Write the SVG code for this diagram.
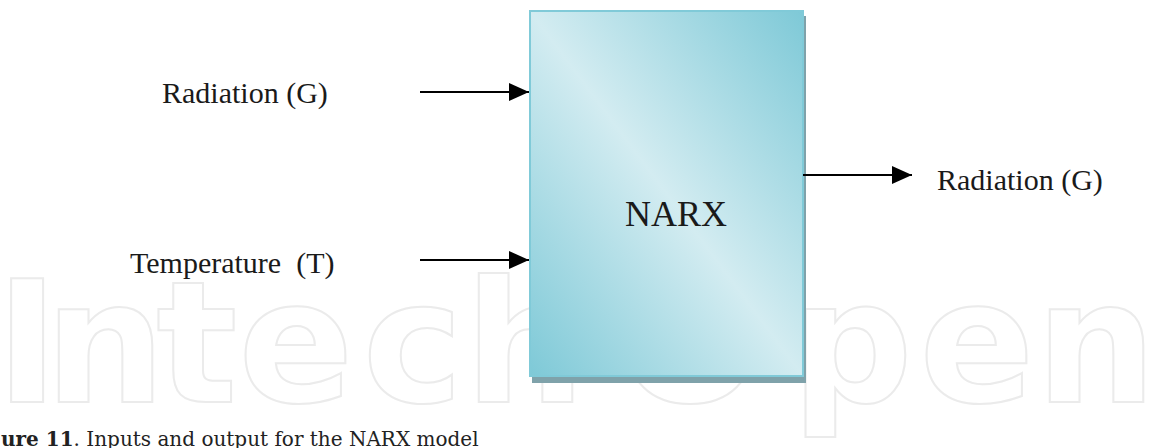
<svg xmlns="http://www.w3.org/2000/svg" width="1150" height="448" viewBox="0 0 1150 448">
<style>
.lbl{font-family:"Liberation Serif","Times New Roman",serif;font-size:30px;fill:#1a1a1a}
.big{font-size:36px}
.wm{font-family:"DejaVu Sans",sans-serif;font-weight:bold;font-size:170px;fill:none;stroke:#ebebeb;stroke-width:2;text-anchor:middle}
.cap{font-family:"DejaVu Serif","Liberation Serif",serif;font-size:20px;fill:#222}
.conn{stroke:#000;stroke-width:2;fill:none;marker-end:url(#ah)}
</style>
<defs>
<linearGradient id="boxg" x1="1" y1="0" x2="0" y2="1">
<stop offset="0" stop-color="#7ec9d7"/>
<stop offset="0.5" stop-color="#d3ecf1"/>
<stop offset="1" stop-color="#7ec9d7"/>
</linearGradient>
<marker id="ah" markerWidth="20" markerHeight="18" refX="20" refY="9" orient="auto" markerUnits="userSpaceOnUse">
<path d="M0,0 L20,9 L0,18 Z" fill="#000"/>
</marker>
</defs>
<rect width="1150" height="448" fill="#fff"/>
<g id="watermark">
<text class="wm" y="402" x="27 105 197 296 413 525 690 852 977 1096">IntechOpen</text>
</g>
<g id="narx">
<rect x="532" y="16" width="274" height="367" fill="#7fa2aa"/>
<rect x="530" y="11" width="273" height="365" fill="url(#boxg)" stroke="#80cad8" stroke-width="2"/>
<text class="lbl big" x="625" y="226">NARX</text>
</g>
<g id="in-radiation">
<text class="lbl" x="162" y="103">Radiation (G)</text>
</g>
<g id="in-temperature">
<text class="lbl" x="130" y="273" xml:space="preserve">Temperature  (T)</text>
</g>
<g id="out-radiation">
<text class="lbl" x="937" y="190">Radiation (G)</text>
</g>
<g id="connectors">
<line class="conn" x1="420" y1="92" x2="529" y2="92"/>
<line class="conn" x1="420" y1="260" x2="529" y2="260"/>
<line class="conn" x1="803" y1="175" x2="912" y2="175"/>
</g>
<g id="caption">
<text class="cap" x="1" y="446"><tspan font-weight="bold">ure 11</tspan>. Inputs and output for the NARX model</text>
</g>
</svg>
